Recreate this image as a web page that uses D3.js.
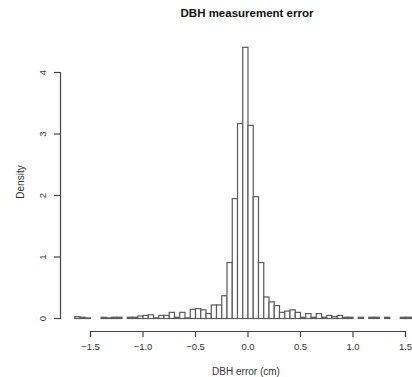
<!DOCTYPE html>
<html>
<head>
<meta charset="utf-8">
<script src="https://cdn.jsdelivr.net/npm/d3@7"></script>
<style>
  body { margin: 0; background: #fff; }
  svg { display: block; font-family: "Liberation Sans", Arial, sans-serif; }
</style>
</head>
<body>
<svg id="chart" width="412" height="377"></svg>
<script>
// Lower edge of each histogram bin (cm), bins are 0.05 wide
const binStarts = [
  -1.65, -1.60, -1.55, -1.50, -1.45, -1.40, -1.35, -1.30, -1.25, -1.20, -1.15,
  -1.10, -1.05, -1.00, -0.95, -0.90, -0.85, -0.80, -0.75, -0.70, -0.65, -0.60,
  -0.55, -0.50, -0.45, -0.40, -0.35, -0.30, -0.25, -0.20, -0.15, -0.10, -0.05,
   0.00,  0.05,  0.10,  0.15,  0.20,  0.25,  0.30,  0.35,  0.40,  0.45,  0.50,
   0.55,  0.60,  0.65,  0.70,  0.75,  0.80,  0.85,  0.90,  0.95,  1.00,  1.05,
   1.10,  1.15,  1.20,  1.25,  1.30,  1.35,  1.40,  1.45,  1.50,  1.55,  1.60
];
const binWidth = 0.05;

// Density of each bin
const densities = [
  0.03, 0.02, 0.01, 0.00, 0.00, 0.02, 0.01, 0.02, 0.02, 0.00, 0.02,
  0.02, 0.04, 0.05, 0.06, 0.01, 0.05, 0.05, 0.10, 0.02, 0.10, 0.01,
  0.15, 0.16, 0.14, 0.08, 0.22, 0.22, 0.37, 0.91, 1.95, 3.17, 4.41,
  3.14, 1.98, 0.91, 0.35, 0.27, 0.21, 0.10, 0.12, 0.14, 0.10, 0.02,
  0.08, 0.02, 0.08, 0.02, 0.05, 0.03, 0.05, 0.02, 0.02, 0.00, 0.02,
  0.00, 0.02, 0.02, 0.00, 0.02, 0.00, 0.00, 0.02, 0.02, 0.02, 0.02
];

const xTicks = [-1.5, -1.0, -0.5, 0.0, 0.5, 1.0, 1.5];
const yTicks = [0, 1, 2, 3, 4];

const svg = d3.select("#chart");
const ink = "#444";
const barStroke = "#5a5a5a";

const xScale = d3.scaleLinear().domain([-1.5, 1.5]).range([90, 405]);
const yScale = d3.scaleLinear().domain([0, 4]).range([318, 72]);

const bins = binStarts.map((x0, i) => ({ x0, x1: x0 + binWidth, density: densities[i] }));

// Histogram rectangles (R style: white fill, grey outline)
svg.append("g")
  .selectAll("rect")
  .data(bins)
  .join("rect")
  .attr("x", (d) => xScale(d.x0) + 0.5)
  .attr("y", (d) => yScale(d.density) + 0.5)
  .attr("width", (d) => xScale(d.x1) - xScale(d.x0))
  .attr("height", (d) => yScale(0) - yScale(d.density))
  .attr("fill", "#fff")
  .attr("stroke", barStroke)
  .attr("stroke-width", 1.2);

// x axis, offset below the bars like R's default
const xAxis = d3.axisBottom(xScale)
  .tickValues(xTicks)
  .tickFormat(d3.format(".1f"))
  .tickSizeOuter(0)
  .tickSize(6)
  .tickPadding(6);

const gx = svg.append("g")
  .attr("transform", "translate(0,331)")
  .call(xAxis);

// y axis with rotated labels
const yAxis = d3.axisLeft(yScale)
  .tickValues(yTicks)
  .tickFormat(d3.format("d"))
  .tickSizeOuter(0)
  .tickSize(6);

const gy = svg.append("g")
  .attr("transform", "translate(60,0)")
  .call(yAxis);

[gx, gy].forEach((g) => {
  g.select(".domain").attr("stroke", ink).attr("stroke-width", 1.2);
  g.selectAll(".tick line").attr("stroke", ink).attr("stroke-width", 1.2);
  g.selectAll(".tick text")
    .attr("fill", "#333")
    .attr("font-size", 9.5)
    .attr("font-family", "Liberation Sans, Arial, sans-serif");
});

gy.selectAll(".tick text")
  .attr("x", 0)
  .attr("dy", 0)
  .attr("text-anchor", "middle")
  .attr("transform", "translate(-14,0) rotate(-90)");

// Titles
svg.append("text")
  .attr("x", 247)
  .attr("y", 17)
  .attr("text-anchor", "middle")
  .attr("font-size", 11.5)
  .attr("font-weight", "bold")
  .attr("fill", "#111")
  .text("DBH measurement error");

svg.append("text")
  .attr("x", 246)
  .attr("y", 375)
  .attr("text-anchor", "middle")
  .attr("font-size", 10)
  .attr("fill", "#333")
  .text("DBH error (cm)");

svg.append("text")
  .attr("transform", "translate(24,182) rotate(-90)")
  .attr("text-anchor", "middle")
  .attr("font-size", 10)
  .attr("fill", "#333")
  .text("Density");
</script>
</body>
</html>
